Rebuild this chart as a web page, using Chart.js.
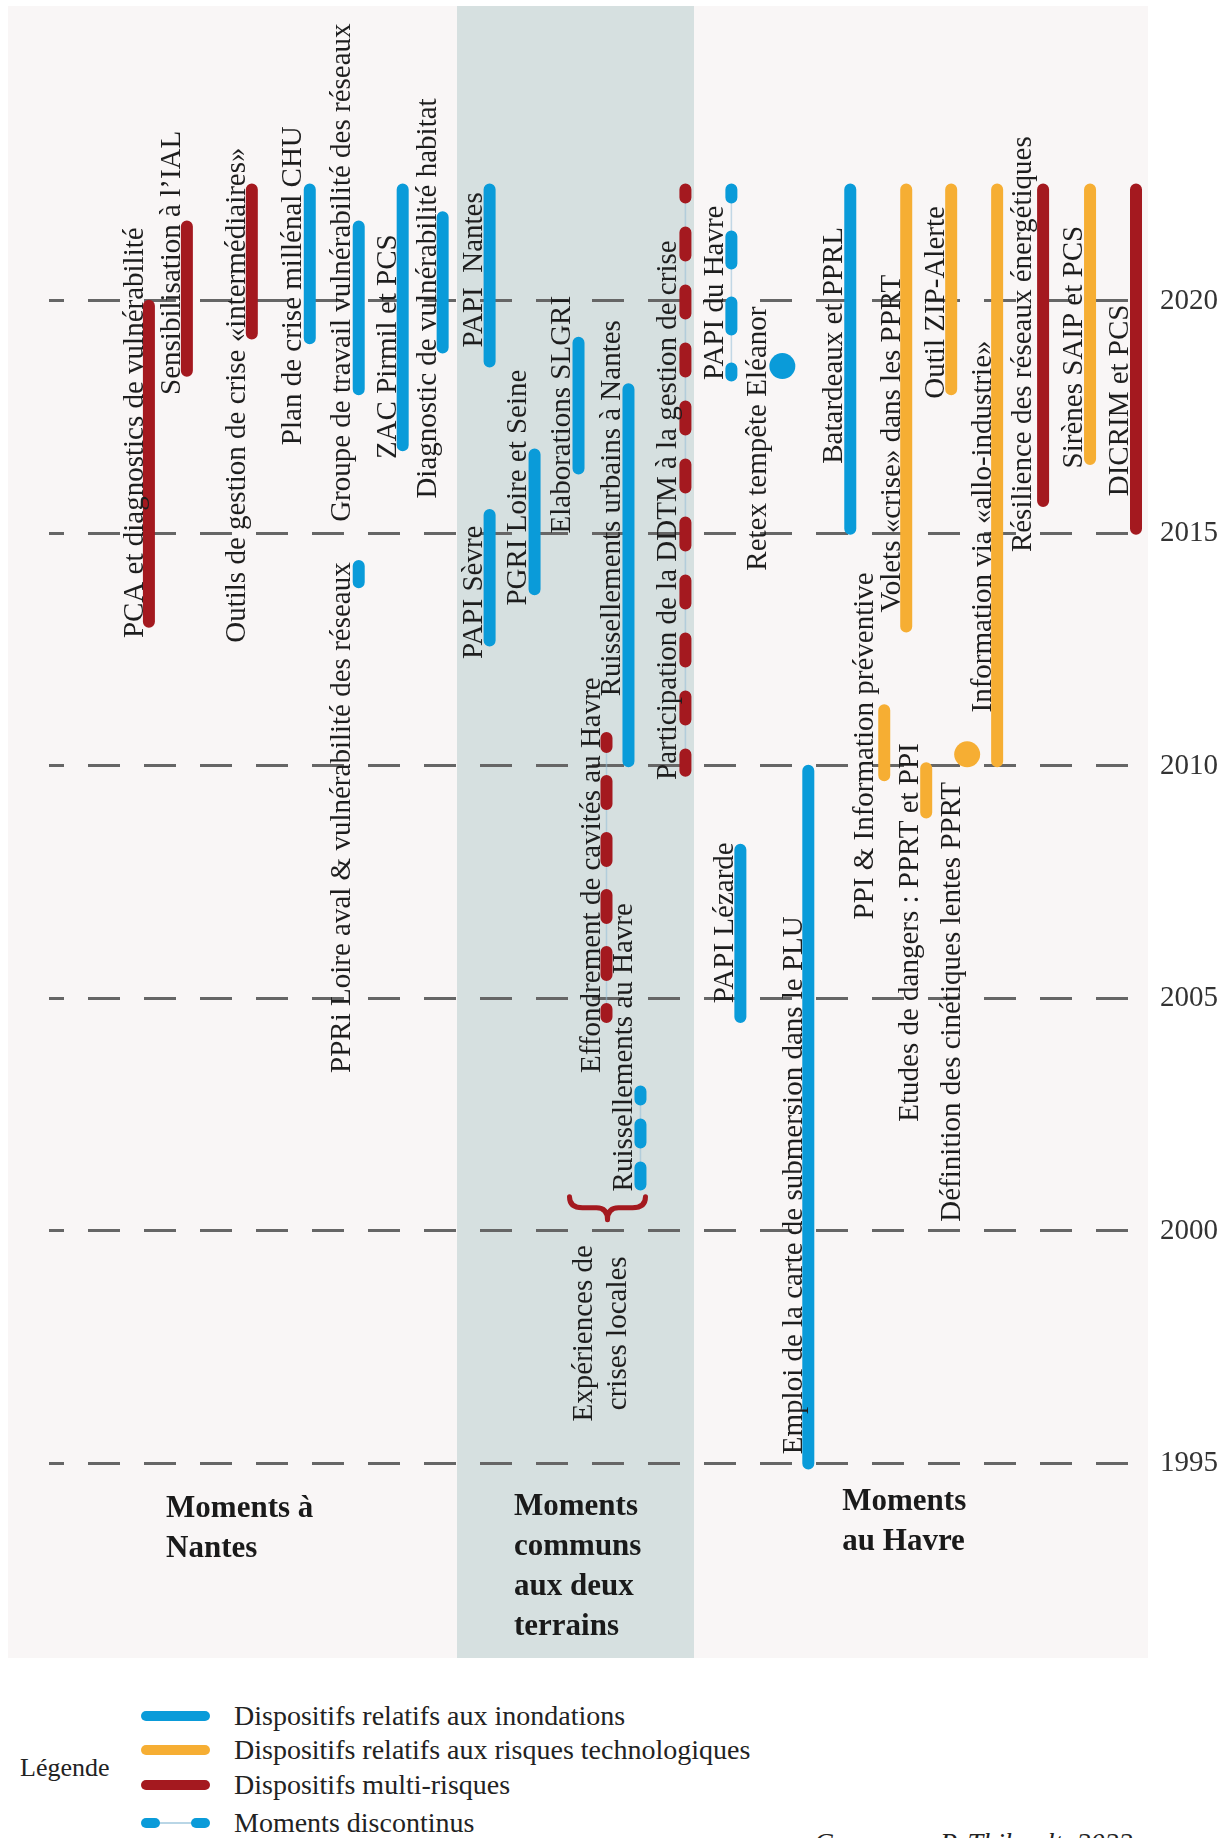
<!DOCTYPE html>
<html lang="fr">
<head>
<meta charset="utf-8">
<title>Moments à Nantes et au Havre</title>
<script src="https://cdn.jsdelivr.net/npm/chart.js@4.4.1/dist/chart.umd.min.js"></script>
<style>
  html, body { margin: 0; padding: 0; background: #fff; }
  body { width: 1228px; height: 1838px; position: relative; overflow: hidden;
         font-family: "Liberation Serif", "DejaVu Serif", serif; color: #222; }
  #wrap { position: absolute; left: 0; top: 0; width: 1228px; height: 1680px; }
  .leg-title { position: absolute; left: 20px; top: 1752px; font-size: 26px; line-height: 32px; }
  .leg-row { position: absolute; left: 141px; height: 32px; display: flex; align-items: center;
             font-size: 28px; line-height: 32px; }
  .sw { width: 69px; height: 10px; border-radius: 5px; margin-right: 24px; }
  .sw-dis { width: 69px; height: 10px; margin-right: 24px; position: relative; }
  .sw-dis span { position: absolute; top: 0; width: 19px; height: 10px; border-radius: 5px; background: #0a9bd9; }
  .sw-dis i { position: absolute; left: 10px; right: 10px; top: 4px; height: 2px; background: #b9d6e6; }
  .credit { position: absolute; left: 814px; top: 1829px; font-size: 28px; line-height: 28px; font-style: italic; white-space: nowrap; }
</style>
</head>
<body>
<div id="wrap"><canvas id="timeline"></canvas></div>

<div class="leg-title">Légende</div>
<div id="legend"></div>
<div class="credit">Conçu par P. Thibault, 2022</div>

<script>
// years shown on the right axis
var yearTicks = [1995, 2000, 2005, 2010, 2015, 2020];

// bars (one lane each, start / end year, type of risk)
var barNames = [
  'PCA et diagnostics de vulnérabilité',
  'Sensibilisation à l’IAL',
  'Outils de gestion de crise «intermédiaires»',
  'Plan de crise millénal CHU',
  'Groupe de travail vulnérabilité des réseaux',
  'PPRi Loire aval & vulnérabilité des réseaux',
  'ZAC Pirmil et PCS',
  'Diagnostic de vulnérabilité habitat',
  'PAPI  Nantes',
  'PAPI Sèvre',
  'PGRI Loire et Seine',
  'Elaborations SLGRI',
  'Effondrement de cavités au Havre',
  'Ruissellements urbains à Nantes',
  'Ruissellements au Havre',
  'Participation de la DDTM à la gestion de crise',
  'PAPI du Havre',
  'PAPI Lézarde',
  'Emploi de la carte de submersion dans le PLU',
  'Batardeaux et PPRL',
  'PPI & Information préventive',
  'Volets «crise» dans les PPRT',
  'Etudes de dangers : PPRT et PPI',
  'Outil ZIP-Alerte',
  'Information via «allo-industrie»',
  'Résilience des réseaux énergétiques',
  'Sirènes SAIP et PCS',
  'DICRIM et PCS'
];
var barLanes = [5.0, 6.9, 10.15, 13.05, 15.5, 15.5, 17.7, 19.7, 22.05, 22.05, 24.3, 26.5, 27.9, 29.0,
                29.6, 31.85, 34.15, 34.6, 38.0, 40.1, 41.8, 42.9, 43.9, 45.15, 47.45, 49.75, 52.1, 54.4];
var barStart = [2013.1, 2018.5, 2019.3, 2019.2, 2018.1, 2013.95, 2016.9, 2019.0, 2018.7, 2012.7, 2013.8, 2016.4, 2004.6, 2010.1,
                2001.0, 2009.9, 2018.4, 2004.6, 1995.0, 2015.1, 2009.8, 2013.0, 2009.0, 2018.1, 2010.1, 2015.7, 2016.6, 2015.1];
var barEnd = [2019.9, 2021.6, 2022.4, 2022.4, 2021.6, 2014.3, 2022.4, 2021.8, 2022.4, 2015.4, 2016.7, 2019.1, 2010.6, 2018.1,
              2003.0, 2022.4, 2022.4, 2008.2, 2009.9, 2022.4, 2011.2, 2022.4, 2009.95, 2022.4, 2022.4, 2022.4, 2022.4, 2022.4];
var barRisk = ['multi', 'multi', 'multi', 'inond', 'inond', 'inond', 'inond', 'inond', 'inond', 'inond', 'inond', 'inond', 'multi', 'inond',
               'inond', 'multi', 'inond', 'inond', 'inond', 'inond', 'techno', 'techno', 'techno', 'techno', 'techno', 'multi', 'techno', 'multi'];
var discontinuous = ['Effondrement de cavités au Havre', 'Ruissellements au Havre',
                     'Participation de la DDTM à la gestion de crise', 'PAPI du Havre'];

// single events
var dotNames = ['Retex tempête Eléanor', 'Définition des cinétiques lentes PPRT'];
var dotLanes = [36.7, 45.95];
var dotYears = [2018.6, 2010.25];
var dotRisk = ['inond', 'techno'];

var legendLabels = ['Dispositifs relatifs aux inondations', 'Dispositifs relatifs aux risques technologiques',
                    'Dispositifs multi-risques', 'Moments discontinus'];

// ---- styles and layout ----
var riskColor = { inond: '#0a9bd9', techno: '#f6ae33', multi: '#a4191f' };

// where each label starts (lane, year) - text runs upward
var labelAt = {
  'PCA et diagnostics de vulnérabilité': [4.3, 2012.75],
  'Sensibilisation à l’IAL': [6.2, 2017.98],
  'Outils de gestion de crise «intermédiaires»': [9.45, 2012.65],
  'Plan de crise millénal CHU': [12.25, 2016.9],
  'Groupe de travail vulnérabilité des réseaux': [14.7, 2015.25],
  'PPRi Loire aval & vulnérabilité des réseaux': [14.7, 2003.4],
  'ZAC Pirmil et PCS': [17.0, 2016.6],
  'Diagnostic de vulnérabilité habitat': [19.0, 2015.75],
  'PAPI  Nantes': [21.3, 2019.0],
  'PAPI Sèvre': [21.3, 2012.3],
  'PGRI Loire et Seine': [23.5, 2013.45],
  'Elaborations SLGRI': [25.7, 2015.0],
  'Effondrement de cavités au Havre': [27.2, 2003.4],
  'Ruissellements urbains à Nantes': [28.2, 2011.5],
  'Ruissellements au Havre': [28.8, 2000.85],
  'Participation de la DDTM à la gestion de crise': [31.0, 2009.7],
  'PAPI du Havre': [33.35, 2018.3],
  'PAPI Lézarde': [33.85, 2004.9],
  'Emploi de la carte de submersion dans le PLU': [37.3, 1995.2],
  'Batardeaux et PPRL': [39.3, 2016.5],
  'PPI & Information préventive': [40.85, 2006.7],
  'Volets «crise» dans les PPRT': [42.2, 2013.3],
  'Etudes de dangers : PPRT et PPI': [43.1, 2002.35],
  'Outil ZIP-Alerte': [44.4, 2017.9],
  'Information via «allo-industrie»': [46.75, 2011.15],
  'Résilience des réseaux énergétiques': [48.75, 2014.6],
  'Sirènes SAIP et PCS': [51.3, 2016.4],
  'DICRIM et PCS': [53.6, 2015.8],
  'Retex tempête Eléanor': [35.5, 2014.2],
  'Définition des cinétiques lentes PPRT': [45.2, 2000.2]
};

// dash pattern of the discontinuous moments
var dashStyle = {
  'Effondrement de cavités au Havre': [[23, 34], 14],
  'Ruissellements au Havre': [[18, 25], 10],
  'Participation de la DDTM à la gestion de crise': [[23, 35], 15],
  'PAPI du Havre': [[27, 39], 19]
};

// section titles: lane, year of first baseline, lines
var sections = [
  [5.86, 1993.85, ['Moments à', 'Nantes']],
  [23.27, 1993.9, ['Moments', 'communs', 'aux deux', 'terrains']],
  [39.7, 1994.0, ['Moments', 'au Havre']]
];
var commonBand = [20.42, 32.28];

//build datasets
var datasets = [];
for (var i = 0; i < barNames.length; i++) {
  var pts = [{ x: barLanes[i], y: barEnd[i] }, { x: barLanes[i], y: barStart[i] }];
  var ds = dashStyle[barNames[i]];
  if (discontinuous.indexOf(barNames[i]) >= 0) {
    datasets.push({ data: pts, showLine: true, borderColor: 'rgba(150,190,215,0.55)', borderWidth: 1.5,
                    pointRadius: 0, order: 1 });
  }
  datasets.push({
    label: barNames[i], data: pts, showLine: true,
    borderColor: riskColor[barRisk[i]], borderWidth: 12, borderCapStyle: 'round',
    borderDash: ds ? ds[0] : [], borderDashOffset: ds ? ds[1] : 0,
    pointRadius: 0, order: 0
  });
}
for (var j = 0; j < dotNames.length; j++) {
  datasets.push({
    label: dotNames[j], data: [{ x: dotLanes[j], y: dotYears[j] }],
    pointRadius: 13, pointHoverRadius: 13, backgroundColor: riskColor[dotRisk[j]],
    borderWidth: 0, order: 0
  });
}

var FONT = '"Liberation Serif", "DejaVu Serif", serif';

var decorPlugin = {
  id: 'decor',
  beforeDraw: function(chart) {
    var c = chart.ctx, a = chart.chartArea, xs = chart.scales.x;
    c.save();
    c.fillStyle = '#f9f6f6';
    c.fillRect(8, a.top, a.right - 8, a.bottom - a.top);
    var b0 = xs.getPixelForValue(commonBand[0]), b1 = xs.getPixelForValue(commonBand[1]);
    c.fillStyle = '#d6e0e0';
    c.fillRect(b0, a.top, b1 - b0, a.bottom - a.top);
    c.restore();
  },
  afterDatasetsDraw: function(chart) {
    var c = chart.ctx, xs = chart.scales.x, ys = chart.scales.y;
    c.save();
    c.fillStyle = '#1e1e1e';
    c.font = '29px ' + FONT;
    c.textBaseline = 'middle';
    var names = barNames.concat(dotNames);
    names.forEach(function(n) {
      var p = labelAt[n];
      c.save();
      c.translate(xs.getPixelForValue(p[0]), ys.getPixelForValue(p[1]));
      c.rotate(-Math.PI / 2);
      c.textAlign = 'left';
      c.fillText(n, 0, 0);
      c.restore();
    });

    // local crises annotation and its brace
    var ey = ys.getPixelForValue(1997.8);
    [['Expériences de', 26.8], ['crises locales', 28.5]].forEach(function(t) {
      c.save();
      c.translate(xs.getPixelForValue(t[1]), ey);
      c.rotate(-Math.PI / 2);
      c.textAlign = 'center';
      c.fillText(t[0], 0, 0);
      c.restore();
    });
    var bx = xs.getPixelForValue(27.95), by = ys.getPixelForValue(2000.5);
    c.strokeStyle = riskColor.multi;
    c.lineWidth = 5;
    c.lineCap = 'round';
    c.beginPath();
    [-1, 1].forEach(function(s) {
      c.moveTo(bx + s * 38, by - 11);
      c.quadraticCurveTo(bx + s * 38, by, bx + s * 25, by);
      c.lineTo(bx + s * 11, by);
      c.quadraticCurveTo(bx, by, bx, by + 12);
    });
    c.stroke();

    // section titles
    c.font = 'bold 31px ' + FONT;
    c.textAlign = 'left';
    c.textBaseline = 'alphabetic';
    c.fillStyle = '#1a1a1a';
    sections.forEach(function(s) {
      var x = xs.getPixelForValue(s[0]), y = ys.getPixelForValue(s[1]);
      s[2].forEach(function(line, k) { c.fillText(line, x, y + k * 40); });
    });
    c.restore();
  }
};

var ctx = document.getElementById('timeline');
var timeline = new Chart(ctx, {
  type: 'scatter',
  data: { datasets: datasets },
  options: {
    responsive: true,
    maintainAspectRatio: false,
    animation: false,
    layout: { autoPadding: false, padding: { left: 49, top: 6, right: 0, bottom: 22 } },
    plugins: { legend: { display: false }, tooltip: { enabled: false } },
    scales: {
      x: { type: 'linear', min: 0, max: 55, display: false },
      y: {
        type: 'linear', position: 'right', min: 1990.817, max: 2026.344,
        afterBuildTicks: function(scale) {
          scale.ticks = yearTicks.map(function(v) { return { value: v }; });
        },
        afterFit: function(scale) {
          scale.width = 80;
          // labels are far from the ends, no extra room needed
          scale.paddingTop = 0;
          scale.paddingBottom = 0;
        },
        grid: { color: '#666', lineWidth: 3, drawTicks: false },
        border: { display: false, dash: [32, 24], dashOffset: 17 },
        ticks: { color: '#333', padding: 12, font: { family: FONT, size: 29 },
                 callback: function(v) { return String(v); } }
      }
    }
  },
  plugins: [decorPlugin]
});

// html legend
var legendColors = [riskColor.inond, riskColor.techno, riskColor.multi];
var legendCenters = [1716, 1750, 1785, 1823];
var box = document.getElementById('legend');
legendLabels.forEach(function(txt, k) {
  var row = document.createElement('div');
  row.className = 'leg-row';
  row.style.top = (legendCenters[k] - 16) + 'px';
  var sw = document.createElement('div');
  if (k < 3) {
    sw.className = 'sw';
    sw.style.background = legendColors[k];
  } else {
    sw.className = 'sw-dis';
    sw.innerHTML = '<i></i><span style="left:0"></span><span style="right:0"></span>';
  }
  row.appendChild(sw);
  var t = document.createElement('span');
  t.textContent = txt;
  row.appendChild(t);
  box.appendChild(row);
});
</script>
</body>
</html>
